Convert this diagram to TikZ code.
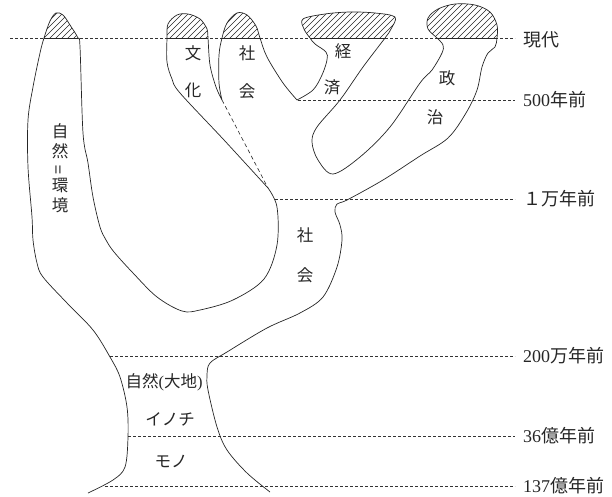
\documentclass[tikz,border=0pt]{standalone}
\usepackage{fontspec}
\setmainfont{Liberation Serif}
\newfontfamily\jp{Noto Sans CJK JP}
\begin{document}
\def\treepath{%
plot[smooth,tension=0.55] coordinates {(88,493) (113,480) (125,467) (128,437) (127,407) (120,377) (110,357) (93,330) (67,303) (43,277) (37,263) (33,240) (32,217) (28,167) (28,120) (33,87) (40,53) (44,38) (50,21) (56,13) (63,15) (70,25) (78,38) (80,47) (83,133) (88,163) (93,197) (100,227) (106,240) (114,252) (133,273) (157,297) (182,311) (200,310) (233,300) (264,279) (277,245) (277,207) (268,188)}
-- plot[smooth,tension=0.55] coordinates {(268,188) (224,140) (180,93) (172,79) (167,62) (167,38) (168,24) (177,15) (188,14) (200,19) (207,29) (208,38) (210,65) (216,87) (222,100)}
-- plot[smooth,tension=0.55] coordinates {(222,100) (219,83) (219,55) (222,38) (227,23) (237,13) (247,15) (256,26) (260,38) (267,57) (283,83) (297,100)}
-- plot[smooth,tension=0.55] coordinates {(297,100) (313,90) (322,75) (327,60) (326,52) (315,44) (310,38) (304,29) (303,19) (325,14) (350,12) (375,13) (395,17) (391,29) (385,38) (363,67) (340,100) (317,127) (312,142) (318,160) (333,174) (360,157) (390,127) (420,83) (432,70) (442,53) (443,45) (437,38) (428,29) (428,18) (438,9) (455,4) (475,5) (490,12) (497,25) (497,38) (495,47) (488,53) (482,67) (477,90) (466,113) (448,138) (420,156) (383,180) (347,200) (337,204) (335,212) (340,225) (342,240) (337,267) (323,297) (300,313) (267,328) (227,352) (210,363) (207,375) (208,390) (217,427) (227,450) (247,473) (270,492)}}
\begin{tikzpicture}[x=1pt,y=-1pt,
  outl/.style={line width=0.7pt, black!85},
  dline/.style={line width=0.6pt, dash pattern=on 3pt off 2pt, black!80},
  ddiag/.style={line width=0.6pt, dash pattern=on 4pt off 3pt, black!85},
  hatch/.style={line width=0.45pt, black!85},
  rlab/.style={anchor=west, inner sep=0pt, font=\fontsize{18}{18}\selectfont, text=black!85},
  ilab/.style={inner sep=0pt, font=\jp\fontsize{16.5}{16.5}\selectfont, text=black!85}]
\useasboundingbox (0,0) rectangle (612,497);
% hatching of the caps
\begin{scope}
  \clip (0,0) rectangle (612,38);
  \clip \treepath -- cycle;
  \foreach \k in {0,...,100} \draw[hatch] (\k*6-50,42) -- ++(48,-48);
\end{scope}
% time lines
\coordinate (h0a) at (10,38);  \coordinate (h0b) at (515,38);
\coordinate (h1a) at (298,100); \coordinate (h1b) at (515,100);
\coordinate (h2a) at (275,199); \coordinate (h2b) at (515,199);
\coordinate (h3a) at (110,356); \coordinate (h3b) at (515,356);
\coordinate (h4a) at (128,436); \coordinate (h4b) at (515,436);
\coordinate (h5a) at (105,486); \coordinate (h5b) at (515,486);
\draw[dline] (h0a) -- (h0b);
\draw[dline] (h1a) -- (h1b);
\draw[dline] (h2a) -- (h2b);
\draw[dline] (h3a) -- (h3b);
\draw[dline] (h4a) -- (h4b);
\draw[dline] (h5a) -- (h5b);
% cap bases
\draw[outl] (44,38) -- (78,38);
\draw[outl] (167,38) -- (208,38);
\draw[outl] (222,38) -- (260,38);
\draw[outl] (310,38) -- (385,38);
\draw[outl] (437,38) -- (497,38);
% outline
\draw[outl, line join=round] \treepath;
\coordinate (v1) at (222,100);
\coordinate (jn) at (268,188);
\draw[ddiag] (v1) -- (jn);
% right labels
\node[rlab] (t0) at (523,40) {\jp 現代};
\node[rlab] (t1) at (523,100) {500\jp 年前};
\node[rlab] (t2) at (523,199) {\jp １万年前};
\node[rlab] (t3) at (523,356) {200\jp 万年前};
\node[rlab] (t4) at (523,436) {36\jp 億年前};
\node[rlab] (t5) at (523,486) {137\jp 億年前};
% inner labels
\node[ilab] (n1) at (60,131) {自};
\node[ilab] (n2) at (60,151) {然};
\node[ilab] (n3) at (60,170) {\rotatebox{90}{=}};
\node[ilab] (n4) at (60,186) {環};
\node[ilab] (n5) at (60,205) {境};
\node[ilab] (c1) at (193,53) {文};
\node[ilab] (c2) at (193,90) {化};
\node[ilab] (s1) at (247,53) {社};
\node[ilab] (s2) at (247,91) {会};
\node[ilab] (e1) at (343,51) {経};
\node[ilab] (e2) at (332,87) {済};
\node[ilab] (p1) at (447,78) {政};
\node[ilab] (p2) at (435,117) {治};
\node[ilab] (g1) at (305,235) {社};
\node[ilab] (g2) at (305,275) {会};
\node[ilab] (b1) at (164,382) {自然{\rmfamily(}大地{\rmfamily)}};
\node[ilab] (b2) at (170,419) {イノチ};
\node[ilab] (b3) at (171,461) {モノ};
\end{tikzpicture}
\end{document}
